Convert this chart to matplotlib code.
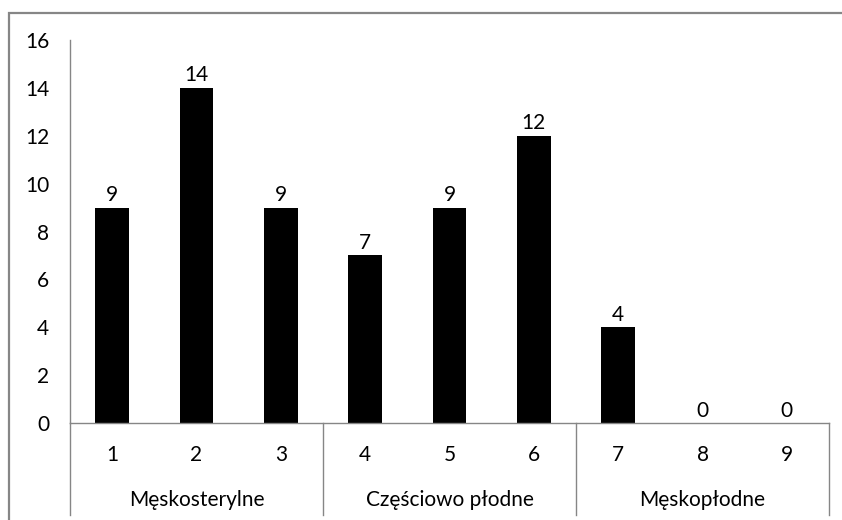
import matplotlib.pyplot as plt
from matplotlib.patches import Rectangle
import matplotlib.transforms as mtransforms

categories = ['1', '2', '3', '4', '5', '6', '7', '8', '9']
values = [9, 14, 9, 7, 9, 12, 4, 0, 0]
groups = ['Męskosterylne', 'Częściowo płodne', 'Męskopłodne']
group_size = 3

plt.rcParams['font.family'] = ['Lato', 'DejaVu Sans']
FS = 15

W, H = 842, 520
fig = plt.figure(figsize=(W / 100, H / 100), dpi=100)
# axes box in pixels: x 70..829, y (top) 40..423
ax = fig.add_axes([70 / W, (H - 423) / H, (829 - 70) / W, (423 - 40) / H])

# outer chart frame (cut off at right/bottom like the reference)
fig.patches.append(Rectangle((9 / W, -0.1), 1.2, (H - 13) / H + 0.1,
                             transform=fig.transFigure, fill=False,
                             edgecolor='#868686', linewidth=1.6))

x = list(range(1, len(values) + 1))
ax.bar(x, values, width=0.4, color='black')
for xi, v in zip(x, values):
    ax.text(xi, v + 0.1, str(v), ha='center', va='bottom', fontsize=FS, color='black')

ax.set_xlim(0.5, len(values) + 0.5)
ax.set_ylim(0, 16)
ax.set_yticks(range(0, 17, 2))
ax.tick_params(axis='y', length=0, pad=15, labelsize=FS)
ax.set_xticks(x)
ax.set_xticklabels(categories)
ax.tick_params(axis='x', length=0, pad=16, labelsize=FS)

for s in ['top', 'right']:
    ax.spines[s].set_visible(False)
for s in ['left', 'bottom']:
    ax.spines[s].set_color('#868686')
    ax.spines[s].set_linewidth(1.0)

trans = mtransforms.blended_transform_factory(ax.transData, ax.transAxes)
bottom = (423 - 515) / 383
for b in [0.5 + group_size * i for i in range(len(groups) + 1)]:
    ax.plot([b, b], [0, bottom], transform=trans, color='#868686',
            linewidth=1.0, clip_on=False)
for i, g in enumerate(groups):
    ax.text(group_size * i + (group_size + 1) / 2, (423 - 500) / 383, g,
            transform=trans, ha='center', va='center', fontsize=FS)

fig.savefig('out.png', dpi=100)
